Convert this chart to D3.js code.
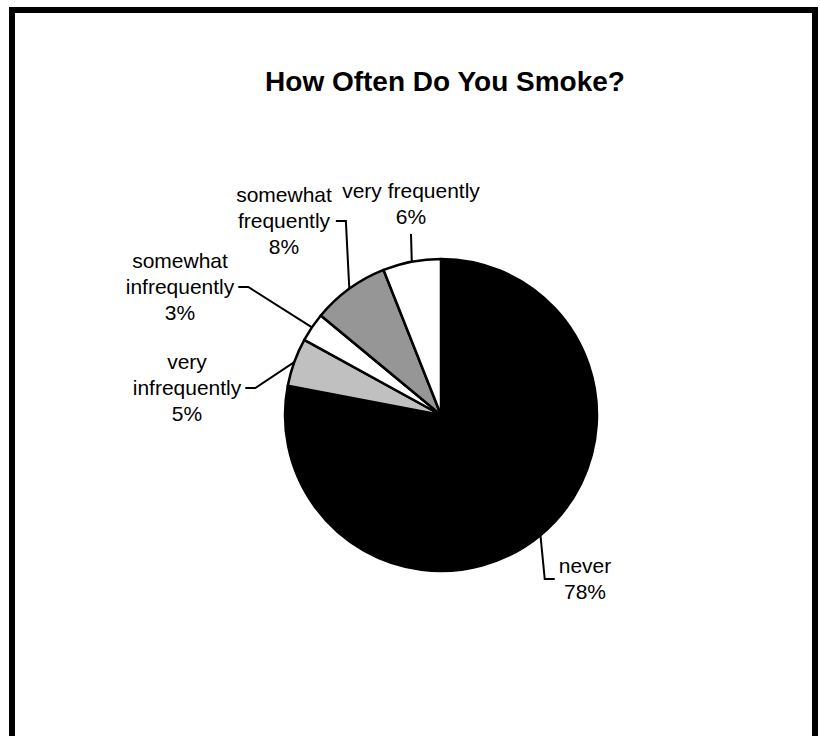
<!DOCTYPE html>
<html lang="en">
<head>
<meta charset="UTF-8">
<title>How Often Do You Smoke?</title>
<script src="https://d3js.org/d3.v7.min.js"></script>
<style>
body { margin: 0; background: #fff; }
text { font-family: 'Liberation Sans', Arial, sans-serif; fill: #000; }
</style>
</head>
<body>
<svg class="container"></svg>
<script>
// data
const categories = ['never', 'very infrequently', 'somewhat infrequently', 'somewhat frequently', 'very frequently'];
const values = [78, 5, 3, 8, 6];
const labelLines = [['never', '78%'], ['very', 'infrequently', '5%'], ['somewhat', 'infrequently', '3%'], ['somewhat', 'frequently', '8%'], ['very frequently', '6%']];
const fills = ['#000000', '#c0c0c0', '#ffffff', '#969696', '#ffffff'];

// label block placement relative to pie centre, and where the leader attaches
const labelPlace = [
    { dx: 144, dy: 164, side: 'left' },
    { dx: -254, dy: -27, side: 'right' },
    { dx: -261, dy: -128, side: 'right' },
    { dx: -157, dy: -194, side: 'right' },
    { dx: -30, dy: -211, side: 'bottom' }
];

const width = 820, height = 736;
const cx = 441, cy = 415, radius = 156;
const fontSize = 21, lineH = 26;

let svg = d3.select('svg.container')
    .attr('width', width)
    .attr('height', height);

// frame
svg.append('rect')
    .attr('x', 12).attr('y', 10)
    .attr('width', 803).attr('height', 760)
    .attr('fill', 'none')
    .attr('stroke', '#000')
    .attr('stroke-width', 6);

svg.append('text')
    .attr('x', 445).attr('y', 91)
    .attr('text-anchor', 'middle')
    .style('font-size', '28px')
    .style('font-weight', 'bold')
    .text('How Often Do You Smoke?');

let pie = d3.pie().sort(null).value(d => d)(values);
let arc = d3.arc().innerRadius(0).outerRadius(radius);

let g = svg.append('g').attr('transform', `translate(${cx},${cy})`);

g.selectAll('path.slice')
    .data(pie)
    .enter().append('path')
    .attr('class', 'slice')
    .attr('d', arc)
    .attr('fill', (d, i) => fills[i])
    .attr('stroke', '#000')
    .attr('stroke-width', 2.5)
    .attr('stroke-linejoin', 'round');

// labels + leader lines
pie.forEach((d, i) => {
    let p = labelPlace[i];
    let lines = labelLines[i];
    let block = g.append('g');
    let n = lines.length;
    let top = p.dy - (n * lineH) / 2;
    let maxW = 0;
    lines.forEach((t, k) => {
        let el = block.append('text')
            .attr('x', p.dx)
            .attr('y', top + k * lineH + lineH / 2 + fontSize * 0.35)
            .attr('text-anchor', 'middle')
            .style('font-size', fontSize + 'px')
            .text(t);
        maxW = Math.max(maxW, el.node().getComputedTextLength());
    });

    let mid = (d.startAngle + d.endAngle) / 2;
    let ax = radius * Math.sin(mid), ay = -radius * Math.cos(mid);
    let pts;
    if (p.side === 'bottom') {
        pts = [[p.dx, top + n * lineH + 4], [ax, ay]];
    } else {
        let s = p.side === 'right' ? 1 : -1;
        let x0 = p.dx + s * (maxW / 2 + 4);
        pts = [[x0, p.dy], [x0 + s * 10, p.dy], [ax, ay]];
    }
    g.append('path')
        .attr('d', d3.line()(pts))
        .attr('fill', 'none')
        .attr('stroke', '#000')
        .attr('stroke-width', 2);
});
</script>
</body>
</html>
